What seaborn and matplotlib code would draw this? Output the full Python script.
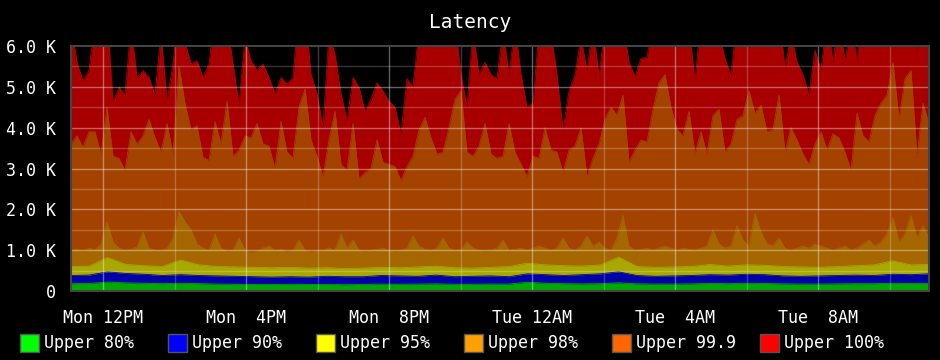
import numpy as np
import pandas as pd
import matplotlib
matplotlib.use("Agg")
import matplotlib.pyplot as plt
import matplotlib.dates as mdates
from matplotlib.patches import Rectangle
import seaborn as sns

# ---------------- data ----------------
title = "Latency"
series_names = ["Upper 80%", "Upper 90%", "Upper 95%", "Upper 98%", "Upper 99.9", "Upper 100%"]
legend_colors = ["#00FF00", "#0000FF", "#FFFF00", "#FFA000", "#FF6600", "#FF0000"]
area_colors = ["#00A800", "#0000A8", "#A8A800", "#A66600", "#A44200", "#A80000"]

y_ticks = [0, 1000, 2000, 3000, 4000, 5000, 6000]
y_tick_labels = ["0", "1.0 K", "2.0 K", "3.0 K", "4.0 K", "5.0 K", "6.0 K"]
x_tick_labels = ["Mon 12PM", "Mon  4PM", "Mon  8PM", "Tue 12AM", "Tue  4AM", "Tue  8AM"]
x_tick_times = ["2024-01-01 12:00", "2024-01-01 16:00", "2024-01-01 20:00",
                "2024-01-02 00:00", "2024-01-02 04:00", "2024-01-02 08:00"]
x_minor_times = ["2024-01-01 14:00", "2024-01-01 18:00", "2024-01-01 22:00",
                 "2024-01-02 02:00", "2024-01-02 06:00", "2024-01-02 10:00"]
t_start = "2024-01-01 11:06"
t_end = "2024-01-02 11:06"

upper_100 = [
    6500, 5600, 5150, 5400, 6600, 6400, 6800, 4650, 4990, 4800, 6500, 5230,
    5400, 5230, 4800, 6300, 4660, 5560, 7000, 6100, 5560, 5640, 5230, 5560,
    6800, 7200, 6600, 5560, 4580, 6200, 5640, 5400, 5560, 5230, 4830, 5230,
    5070, 5230, 7000, 6800, 5310, 4830, 4010, 6300, 5800, 4830, 4170, 5230,
    4990, 4400, 4700, 5100, 4900, 4650, 4500, 3850, 5200, 5000, 6400, 6700,
    7000, 6300, 6600, 6900, 6600, 5300, 4500, 6400, 5300, 5600, 5300, 5200,
    6400, 5300, 6500, 5300, 4500, 4600, 6400, 6700, 6300, 5300, 3950, 4900,
    5300, 6200, 5400, 6500, 5250, 6500, 7000, 6800, 6600, 5600, 5250, 5700,
    5720, 6600, 6800, 6000, 6700, 6600, 6800, 6500, 5150, 6700, 6800, 6600,
    6300, 5700, 5250, 6700, 6800, 6700, 6800, 6500, 6000, 6600, 6800, 5450,
    6300, 5600, 5300, 4800, 5900, 5400, 6700, 5600, 6800, 5600, 6600, 5650,
    6900, 6800, 6900, 6700, 7200, 7000, 6600, 6800, 6700, 5900, 6600, 6800,
]
upper_999 = [
    3600, 3800, 3520, 3900, 3900, 3350, 4500, 3300, 3250, 2950, 3900, 3600,
    3800, 4200, 3760, 3400, 4100, 3350, 5500, 4600, 3950, 4050, 3270, 3200,
    4150, 3600, 4650, 3300, 3450, 3800, 3750, 4100, 3600, 3550, 3000, 4150,
    3400, 3250, 4500, 4950, 3700, 3300, 2800, 3700, 4400, 3100, 2950, 4100,
    2750, 2900, 3000, 3700, 3150, 3100, 3050, 2700, 3050, 3300, 3950, 4250,
    3750, 3350, 3400, 4000, 4700, 4900, 3400, 3300, 3550, 4100, 3350, 3250,
    3300, 4100, 3400, 3100, 2800, 3300, 3250, 4000, 3450, 3400, 2900, 3450,
    3550, 4000, 2800, 3250, 3600, 4200, 4500, 4300, 4800, 3150, 3450, 3700,
    3650, 4450, 5100, 5300, 4500, 3950, 3800, 4400, 3350, 3900, 3350, 4300,
    4450, 3400, 3600, 4200, 4300, 4900, 4350, 4550, 3900, 3950, 4800, 3400,
    4000, 3700, 3350, 3100, 3600, 3900, 3450, 3850, 3750, 3400, 2950, 4350,
    3800, 3650, 4300, 4600, 4800, 5600, 4200, 5200, 5400, 3300, 4600, 4100,
]
upper_98 = [
    1000, 1020, 980, 1050, 1010, 1150, 1700, 1200, 1050, 1000, 1020, 1080,
    1450, 1050, 1000, 990, 1040, 1300, 1950, 1700, 1500, 1150, 1050, 1000,
    1400, 1050, 980, 1000, 1300, 1000, 950, 970, 1050, 1100, 1000, 1020,
    960, 1000, 1250, 1000, 950, 980, 1000, 1050, 1000, 1400, 1050, 1250,
    1000, 980, 1000, 1020, 1050, 1000, 980, 1000, 1050, 1350, 1100, 1020,
    1000, 1050, 1300, 1050, 1000, 1020, 1200, 1050, 1000, 980, 1000, 1050,
    1250, 1000, 1020, 1050, 1000, 1050, 1100, 1050, 1000, 1050, 1300, 1050,
    1000, 1100, 1350, 1100, 1200, 1050, 1000, 1300, 1850, 1100, 1000, 1020,
    1050, 1000, 1050, 1100, 1050, 1000, 1050, 1020, 1000, 1050, 1100, 1500,
    1150, 1050, 1100, 1600, 1250, 1100, 1900, 1450, 1150, 1100, 1300, 1050,
    1000, 1050, 1100, 1050, 1150, 1100, 1050, 1000, 1050, 1100, 1000, 1050,
    1150, 1250, 1100, 1200, 1400, 1800, 1200, 1400, 1850, 1300, 1600, 1300,
]
upper_95 = [
    600, 610, 820, 650, 620, 600, 760, 640, 600, 590, 580, 570,
    580, 560, 570, 550, 560, 580, 570, 590, 610, 570, 560, 580,
    600, 680, 640, 620, 610, 640, 830, 600, 580, 590, 600, 650,
    610, 640, 630, 600, 590, 580, 600, 620, 640, 740, 640, 650,
]
upper_90 = [
    380, 390, 470, 430, 410, 380, 400, 380, 370, 360, 350, 340,
    350, 340, 360, 350, 350, 380, 370, 360, 390, 350, 360, 370,
    350, 420, 400, 380, 400, 420, 470, 380, 360, 370, 380, 400,
    390, 410, 400, 370, 360, 370, 380, 390, 380, 410, 400, 420,
]
upper_80 = [
    180, 185, 220, 200, 190, 180, 190, 180, 170, 165, 160, 160,
    165, 160, 160, 155, 160, 170, 165, 170, 175, 165, 165, 170,
    170, 215, 190, 180, 175, 180, 200, 175, 170, 170, 175, 185,
    180, 190, 185, 175, 170, 170, 175, 180, 180, 190, 185, 190,
]

# ---------------- style ----------------
sns.set_style("dark")
plt.rcParams["font.family"] = ["DejaVu Sans Mono"]
plt.rcParams["axes.unicode_minus"] = False

W, H = 940, 360
fig = plt.figure(figsize=(W / 100, H / 100), dpi=100, facecolor="black")
ax = fig.add_axes([71 / W, 1 - 291 / H, 858 / W, 245 / H])
ax.set_facecolor("black")

series_values = [upper_80, upper_90, upper_95, upper_98, upper_999, upper_100]

rows = []
for name, vals in zip(series_names, series_values):
    times = pd.date_range(t_start, t_end, periods=len(vals))
    for t, v in zip(times, vals):
        rows.append({"series": name, "time": t, "value": v})
df = pd.DataFrame(rows)

# draw largest first so smaller percentiles sit in front
for name, col in list(zip(series_names, area_colors))[::-1]:
    sub = df[df["series"] == name]
    xs = mdates.date2num(sub["time"].dt.to_pydatetime())
    ax.fill_between(xs, 0, sub["value"].to_numpy(), color=col, linewidth=0, zorder=1)
    sns.lineplot(x=xs, y=sub["value"].to_numpy(), color=col, linewidth=0.6,
                 ax=ax, zorder=1.5, legend=False)

x0 = mdates.date2num(pd.Timestamp(t_start).to_pydatetime())
x1 = mdates.date2num(pd.Timestamp(t_end).to_pydatetime())
ax.set_xlim(x0, x1)
ax.set_ylim(0, 6000)

# grid (drawn above areas, semi-transparent)
major_x = [mdates.date2num(pd.Timestamp(t).to_pydatetime()) for t in x_tick_times]
minor_x = [mdates.date2num(pd.Timestamp(t).to_pydatetime()) for t in x_minor_times]
for xv in major_x:
    ax.axvline(xv, color="white", alpha=0.38, linewidth=1, zorder=3)
for xv in minor_x:
    ax.axvline(xv, color="white", alpha=0.22, linewidth=1, zorder=3)
for yv in y_ticks[1:-1]:
    ax.axhline(yv, color="white", alpha=0.38, linewidth=1, zorder=3)
for yv in np.array(y_ticks[:-1]) + 500:
    ax.axhline(yv, color="white", alpha=0.22, linewidth=1, zorder=3)
ax.grid(False)

ax.set_xticks(major_x)
ax.set_xticklabels(x_tick_labels)
ax.set_yticks(y_ticks)
ax.set_yticklabels(y_tick_labels)
ax.tick_params(axis="x", length=0, pad=13, colors="white", labelsize=12)
ax.tick_params(axis="y", length=0, pad=11, colors="white", labelsize=12)
ax.set_xlabel("")
ax.set_ylabel("")
for sp in ax.spines.values():
    sp.set_color("#444444")
    sp.set_linewidth(1.5)
    sp.set_visible(True)
    sp.set_zorder(4)

fig.text(470 / W, 1 - 22 / H, title, color="white", fontsize=14,
         ha="center", va="center")

# legend row
for k, (name, col) in enumerate(zip(series_names, legend_colors)):
    sx = 20 + 148 * k
    fig.patches.append(Rectangle((sx / W, 1 - 352 / H), 19 / W, 18 / H,
                                 transform=fig.transFigure, facecolor=col,
                                 edgecolor="#555555", linewidth=1))
    fig.text((sx + 24) / W, 1 - 343 / H, name, color="white", fontsize=12,
             ha="left", va="center")

fig.savefig("out.png", dpi=100, facecolor="black")
